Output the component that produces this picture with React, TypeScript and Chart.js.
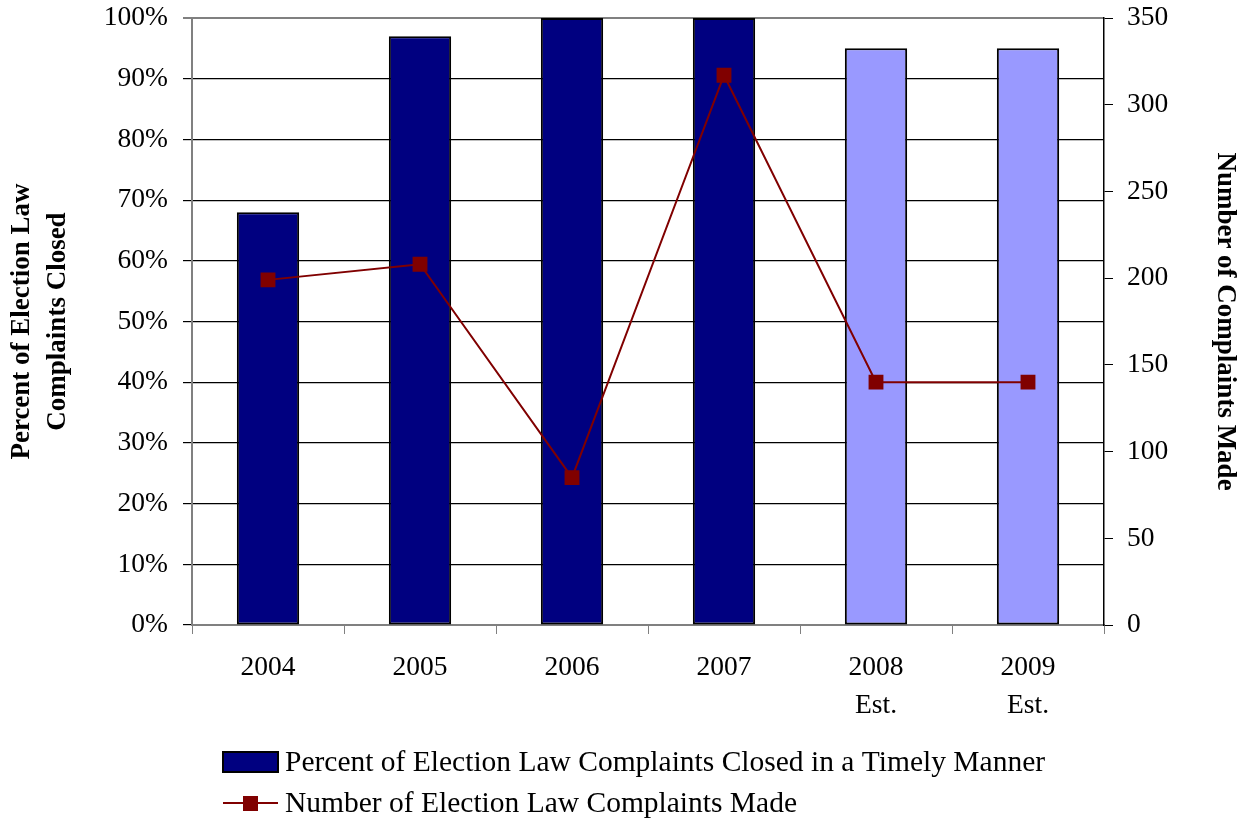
import React, { useEffect, useRef } from "react";
import { Chart, registerables } from "chart.js";

Chart.register(...registerables);

const categories: (string | string[])[] = ["2004", "2005", "2006", "2007", ["2008", "Est."], ["2009", "Est."]];
const percentClosed = [68, 97, 100, 100, 95, 95];
const complaintsMade = [199, 208, 85, 317, 140, 140];
const barColors = ["#000080", "#000080", "#000080", "#000080", "#9999FF", "#9999FF"];
const barLabel = "Percent of Election Law Complaints Closed in a Timely Manner";
const lineLabel = "Number of Election Law Complaints Made";
const leftTitle = ["Percent of Election Law", "Complaints Closed"];
const rightTitle = "Number of Complaints Made";

const FONT = '"Liberation Serif", "Times New Roman", serif';

const legendPlugin = {
  id: "customLegend",
  afterDraw(chart: any) {
    const ctx = chart.ctx;
    ctx.save();
    ctx.font = `29.5px ${FONT}`;
    ctx.textBaseline = "middle";
    // bar entry
    ctx.fillStyle = "#000080";
    ctx.fillRect(223, 752, 55, 20);
    ctx.lineWidth = 2;
    ctx.strokeStyle = "#000";
    ctx.strokeRect(223, 752, 55, 20);
    ctx.fillStyle = "#000";
    ctx.fillText(barLabel, 285, 763);
    // line entry
    ctx.strokeStyle = "#800000";
    ctx.lineWidth = 2;
    ctx.beginPath();
    ctx.moveTo(223, 803);
    ctx.lineTo(278, 803);
    ctx.stroke();
    ctx.fillStyle = "#800000";
    ctx.fillRect(243, 796, 15, 15);
    ctx.fillStyle = "#000";
    ctx.fillText(lineLabel, 285, 804);
    ctx.restore();
  },
};

export default function App() {
  const ref = useRef<HTMLCanvasElement | null>(null);
  useEffect(() => {
    document.body.style.margin = "0";
    if (!ref.current) return;
    const chart = new Chart(ref.current, {
      type: "bar",
      data: {
        labels: categories,
        datasets: [
          {
            type: "line",
            label: lineLabel,
            data: complaintsMade,
            yAxisID: "y1",
            borderColor: "#800000",
            backgroundColor: "#800000",
            borderWidth: 2,
            pointStyle: "rect",
            pointRadius: 10.5,
            pointBorderWidth: 0,
            tension: 0,
            order: 0,
          } as any,
          {
            type: "bar",
            label: barLabel,
            data: percentClosed,
            yAxisID: "y",
            backgroundColor: barColors,
            borderColor: "#000",
            borderWidth: 2,
            borderSkipped: false,
            categoryPercentage: 1,
            barPercentage: 0.41,
            order: 1,
          } as any,
        ],
      },
      options: {
        animation: false,
        responsive: false,
        layout: { padding: { top: 18, left: 0, right: 0, bottom: 0 } },
        plugins: { legend: { display: false }, tooltip: { enabled: false } },
        scales: {
          x: {
            offset: true,
            grid: {
              offset: true,
              drawOnChartArea: false,
              color: "#808080",
              tickLength: 9,
              lineWidth: 1,
            },
            border: { color: "#808080", width: 2 },
            ticks: {
              color: "#000",
              font: { family: FONT, size: 27.5, lineHeight: 1.38 },
              padding: 15,
              maxRotation: 0,
              autoSkip: false,
            },
            afterFit: (s: any) => {
              s.height = 195;
              s.paddingLeft = 0;
              s.paddingRight = 0;
            },
          },
          y: {
            position: "left",
            min: 0,
            max: 100,
            ticks: {
              stepSize: 10,
              color: "#000",
              font: { family: FONT, size: 27.5 },
              padding: 15,
              callback: (v: any) => `${v}%`,
            },
            grid: {
              color: (c: any) => (c.tick && c.tick.value === 100 ? "#808080" : "#000"),
              lineWidth: (c: any) => (c.tick && c.tick.value === 100 ? 2 : 1.2),
              tickLength: 9,
            },
            border: { color: "#808080", width: 2 },
            title: {
              display: true,
              text: leftTitle,
              color: "#000",
              font: { family: FONT, size: 27, weight: "bold", lineHeight: 1.333 },
              padding: { top: 4, bottom: 0 },
            },
            afterFit: (s: any) => {
              s.width = 192;
              s.paddingTop = 0;
              s.paddingBottom = 0;
            },
          },
          y1: {
            position: "right",
            min: 0,
            max: 350,
            ticks: {
              stepSize: 50,
              color: "#000",
              font: { family: FONT, size: 27.5 },
              padding: 14,
            },
            grid: { drawOnChartArea: false, color: "#000", tickLength: 9 },
            border: { color: "#000", width: 1.5 },
            title: {
              display: true,
              text: rightTitle,
              color: "#000",
              font: { family: FONT, size: 27, weight: "bold", lineHeight: 1.2 },
              padding: { top: 6, bottom: 0 },
            },
            afterFit: (s: any) => {
              s.width = 143;
              s.paddingTop = 0;
              s.paddingBottom = 0;
            },
          },
        },
      } as any,
      plugins: [legendPlugin],
    });
    return () => chart.destroy();
  }, []);
  return (
    <div style={{ width: 1247, height: 820 }}>
      <canvas ref={ref} width={1247} height={820} style={{ display: "block" }} />
    </div>
  );
}
